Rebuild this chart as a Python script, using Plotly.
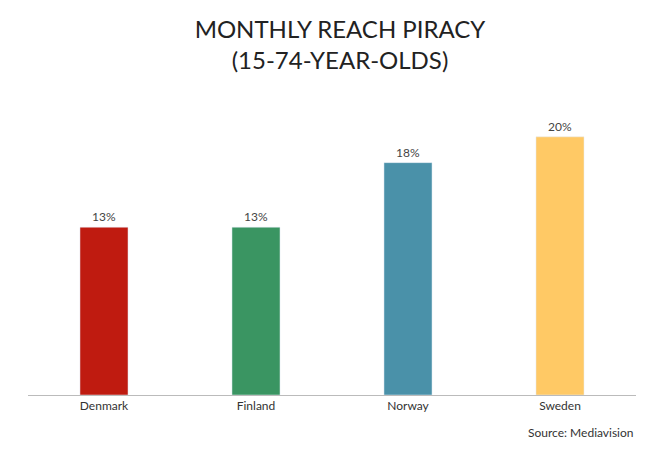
import plotly.graph_objects as go

countries = ["Denmark", "Finland", "Norway", "Sweden"]
values = [13, 13, 18, 20]
labels = ["13%", "13%", "18%", "20%"]
colors = ["#BF1B10", "#3A9562", "#4A91A9", "#FFC965"]

fig = go.Figure(go.Bar(x=countries, y=values, text=labels, textposition="outside",
                       marker_color=colors, textfont=dict(size=12, color="#444"),
                       cliponaxis=False))
fig.update_layout(
    width=664, height=462,
    margin=dict(l=20, r=36, t=103, b=75),
    paper_bgcolor="white", plot_bgcolor="white",
    font=dict(family="Lato, Open Sans, sans-serif", color="#333"),
    bargap=0.684, showlegend=False,
    title=dict(text="MONTHLY REACH PIRACY<br>(15-74-YEAR-OLDS)", x=0.5, xanchor="center",
               y=0.935, yanchor="top", font=dict(size=24, color="#222")),
    xaxis=dict(showline=True, linecolor="#bbb", linewidth=1, ticks="",
               tickfont=dict(size=12, color="#333")),
    yaxis=dict(range=[0, 22], visible=False),
    annotations=[dict(text="Source: Mediavision", x=1.0, xref="paper", xanchor="right",
                      y=-0.10, yref="paper", yanchor="top", showarrow=False,
                      font=dict(size=12, color="#333"))],
)
fig.write_html("out.html")
